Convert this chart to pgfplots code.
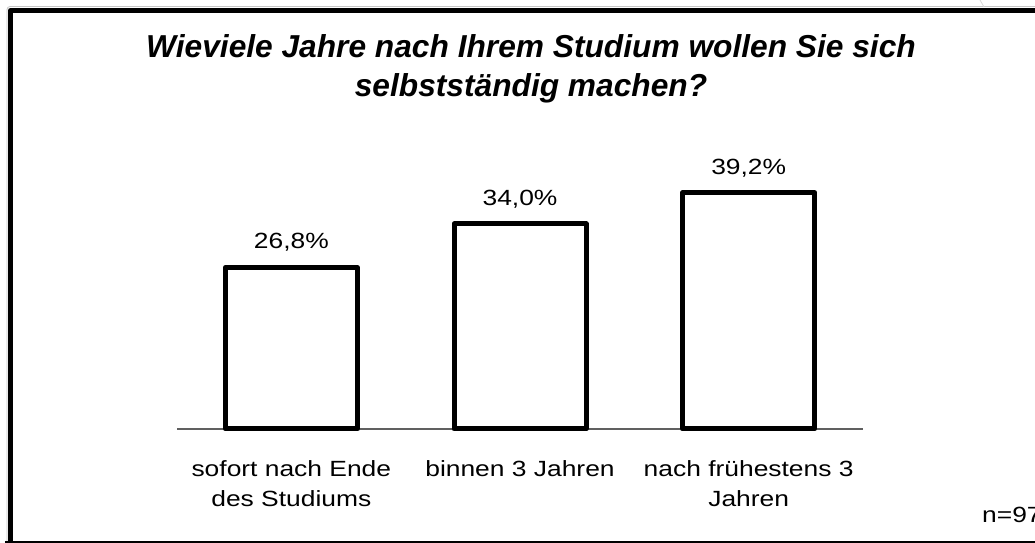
\documentclass[border=0pt]{standalone}
\usepackage{fontspec}
\setmainfont{Liberation Sans}
\newfontfamily\lblfont{Liberation Sans}[FakeStretch=1.2]
\usepackage{pgfplots}
\pgfplotsset{compat=1.18}
\begin{document}
\begin{tikzpicture}[x=1bp,y=1bp]
\useasboundingbox (0,0) rectangle (1035,543);
\clip (0,0) rectangle (1035,543);
\fill[white] (0,0) rectangle (1035,543);
% frame
\draw[gray!45, line width=0.8bp, rounded corners=3bp] (7,-5) -- (7,536.5) -- (1045,536.5);
\draw[black, line width=5bp, line join=round] (10.5,-5) -- (10.5,532.5) -- (1045,532.5);
\draw[black, line width=5bp] (5,-0.5) -- (1045,-0.5);
\draw[gray!30, line width=0.8bp] (980,543) -- (984,536);
% baseline
\draw[gray!75!black, line width=1.2bp] (177,114) -- (863,114);
% title
\node[anchor=base, inner sep=0pt, font=\fontsize{31.7bp}{38bp}\selectfont\bfseries\itshape] at (531,485) {Wieviele Jahre nach Ihrem Studium wollen Sie sich};
\node[anchor=base, inner sep=0pt, font=\fontsize{31.7bp}{38bp}\selectfont\bfseries\itshape] at (531,446) {selbstständig machen?};
\node[anchor=base west, inner sep=0pt, font=\lblfont\fontsize{22bp}{28.5bp}\selectfont] at (982,20) {n=97};
\begin{axis}[
  at={(177bp,114bp)}, anchor=south west, scale only axis,
  width=686bp, height=271.35bp,
  xmin=-0.5, xmax=2.5, ymin=0, ymax=45,
  hide y axis, axis x line*=bottom, x axis line style={draw=none},
  xtick={0,1,2},
  xticklabels={{sofort nach Ende\\des Studiums},{binnen 3 Jahren},{nach frühestens 3\\Jahren}},
  major tick length=0pt, xtick style={draw=none},
  xticklabel style={font=\lblfont\fontsize{22bp}{29.5bp}\selectfont, align=center, anchor=north, inner sep=0pt, yshift=-31.7bp},
  ybar, bar width=132bp,
  nodes near coords={\pgfplotspointmeta}, point meta=explicit symbolic,
  every node near coord/.append style={font=\lblfont\fontsize{22bp}{28.5bp}\selectfont, anchor=base, inner sep=0pt, yshift=18.5bp},
  clip=false,
]
\addplot[draw=black, fill=white, line width=5bp, line join=round] coordinates {(0,26.8) [26,8\%] (1,34.0) [34,0\%] (2,39.2) [39,2\%]};
\end{axis}
\end{tikzpicture}
\end{document}
